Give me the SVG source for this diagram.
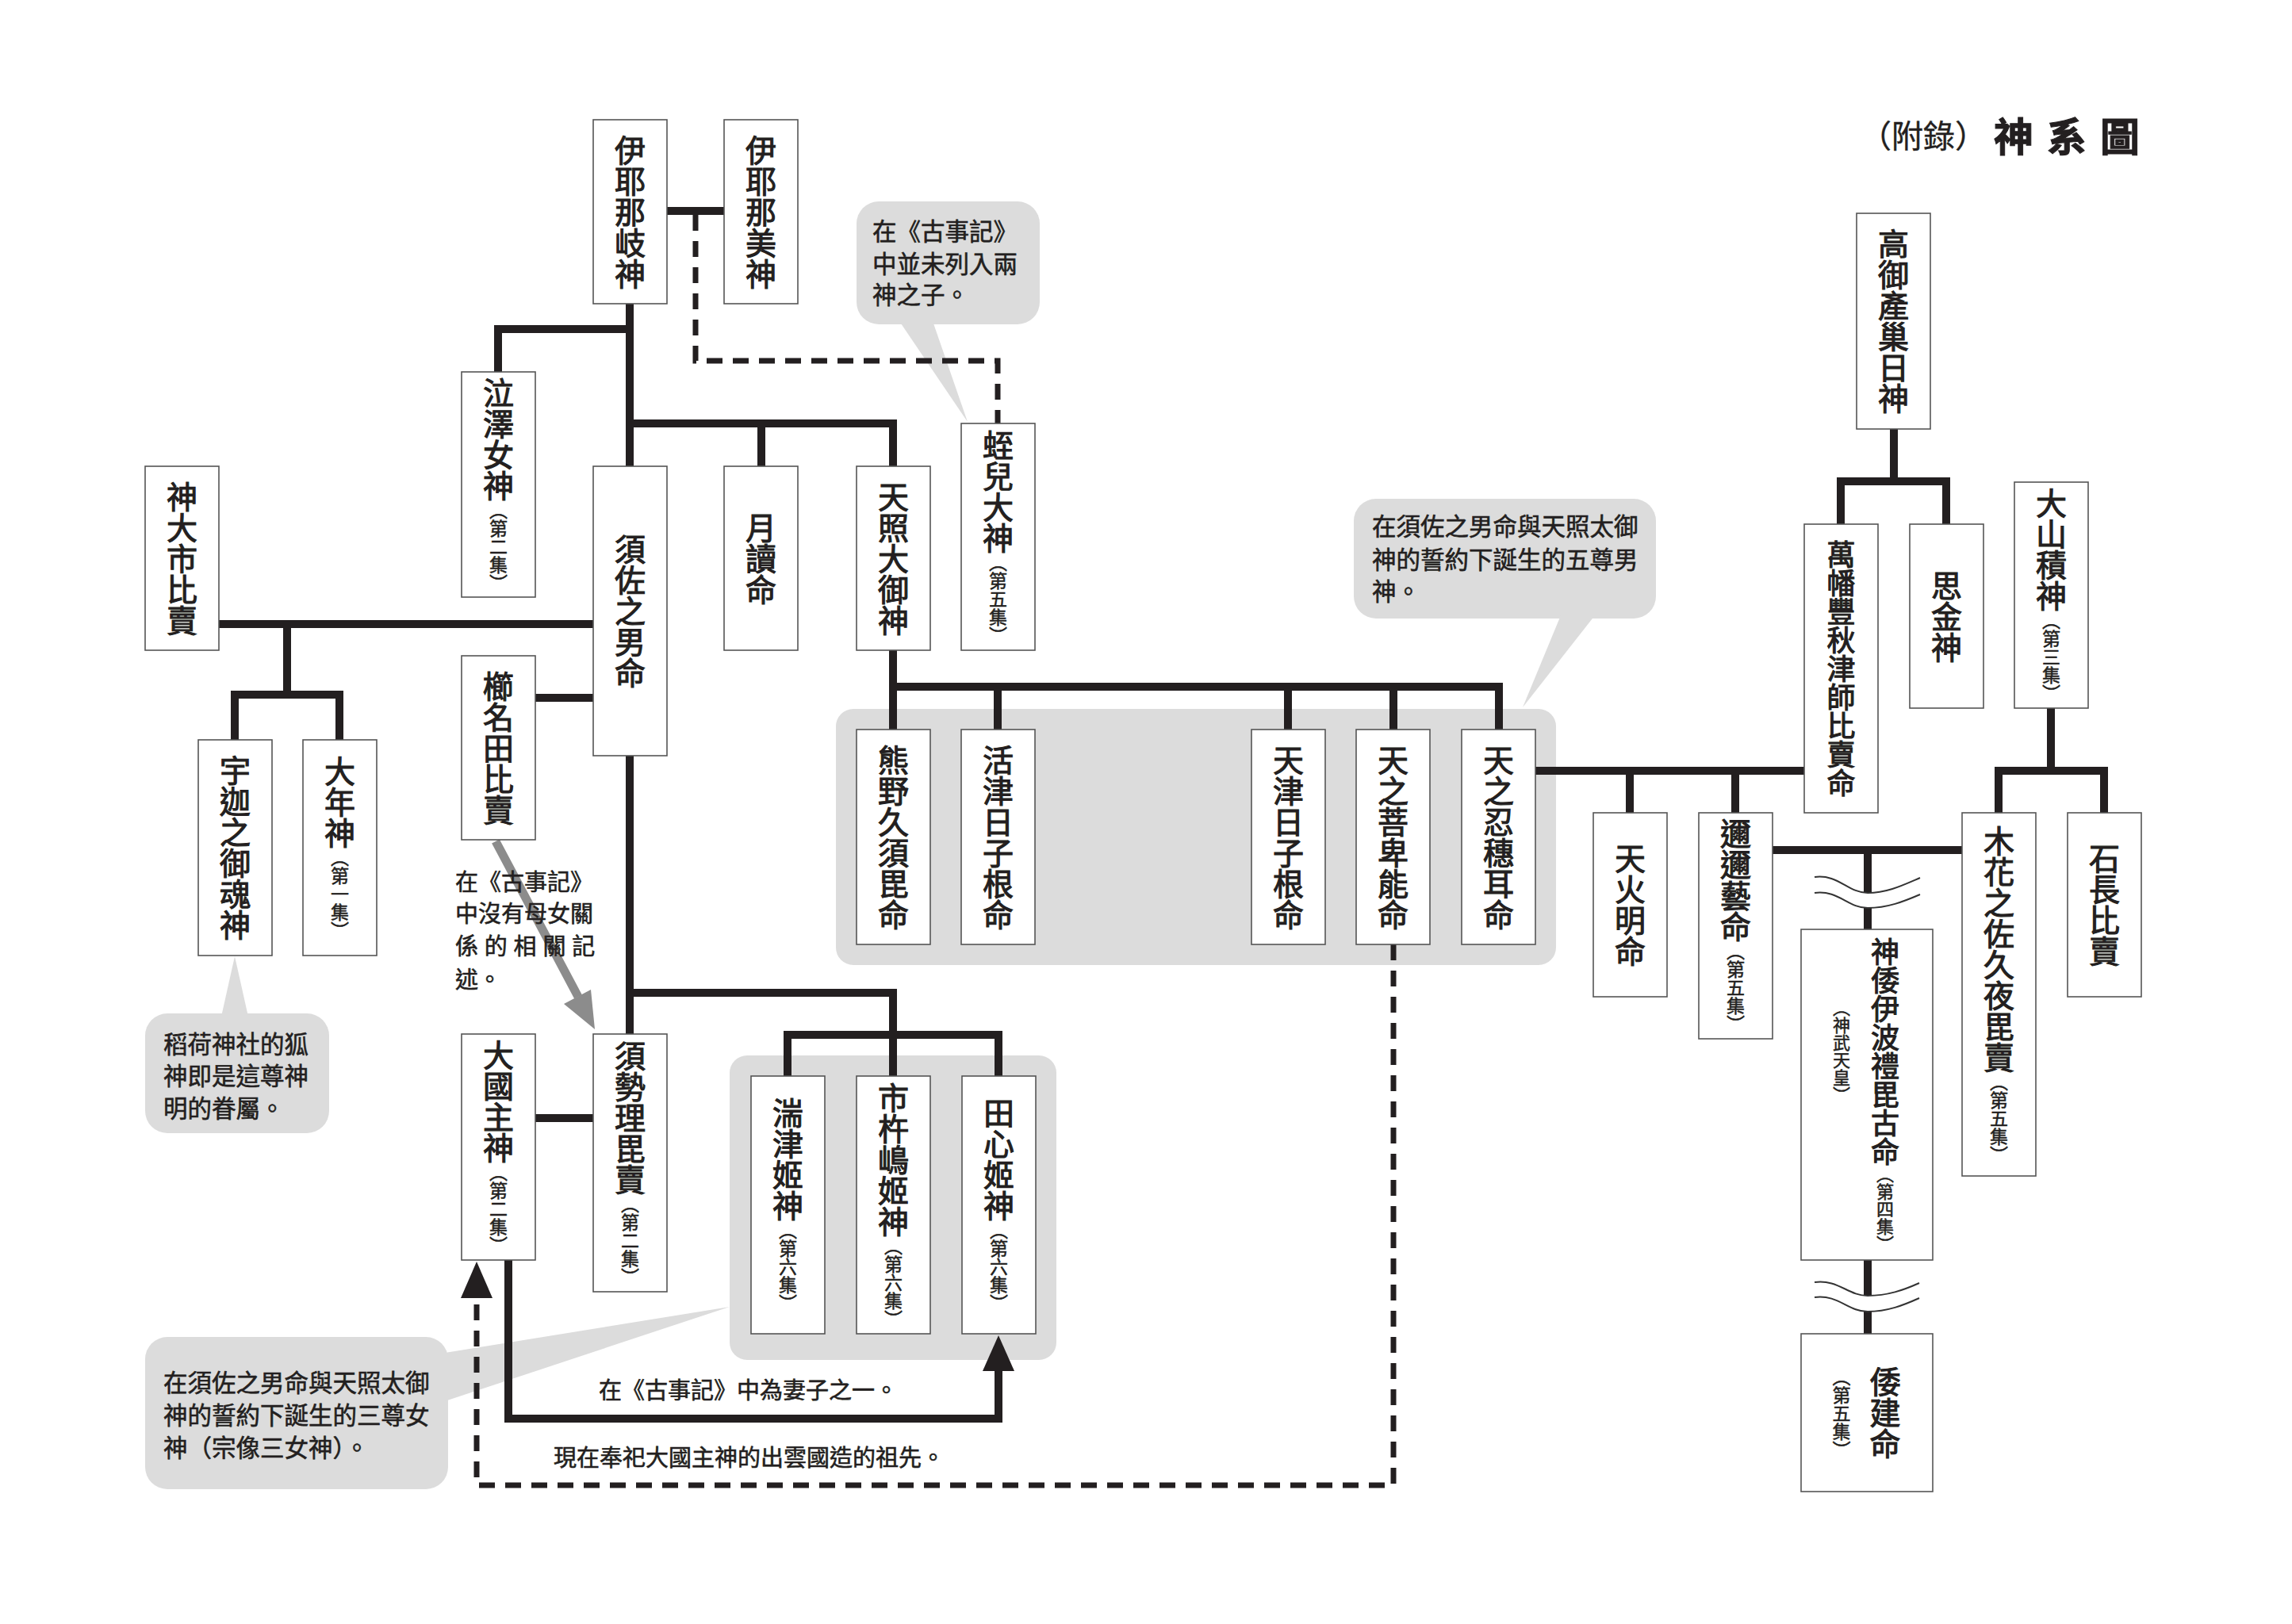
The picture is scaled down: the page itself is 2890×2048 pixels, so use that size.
<svg xmlns="http://www.w3.org/2000/svg" width="2890" height="2048" viewBox="0 0 2890 2048">
<style>
.box{fill:#fff;stroke:#555;stroke-width:1.6}
.ln{fill:none;stroke:#231f20;stroke-width:10}
.dash{fill:none;stroke:#231f20;stroke-width:7;stroke-dasharray:20 13}
.bg{fill:#dcdcdc}
.v{font-family:"Noto Sans CJK TC","Noto Sans CJK JP",sans-serif;font-size:39px;writing-mode:vertical-rl;text-anchor:middle;fill:#231f20;stroke:#231f20;stroke-width:1.1px}
.s{font-size:23px;stroke-width:0.5px}
.t{font-family:"Noto Sans CJK TC","Noto Sans CJK JP",sans-serif;font-size:30.5px;fill:#231f20;stroke:#231f20;stroke-width:0.6px;dominant-baseline:central}
.t29{font-size:29px}
.wave{fill:none;stroke:#333;stroke-width:2}
</style>
<rect width="2890" height="2048" fill="#fff"/>

<g id="title">
<text class="t" x="2505" y="169" text-anchor="end" style="font-size:40px;stroke-width:0.4px">（附錄）</text>
<text class="t" x="2514" y="169" style="font-size:50px;font-weight:bold;letter-spacing:17px;stroke-width:1px">神系圖</text>
</g>

<g id="groups-bg">
<rect class="bg" x="1054" y="894" width="908" height="323" rx="22"/>
<rect class="bg" x="920" y="1331" width="412" height="384" rx="22"/>
</g>

<g id="bubbles">
<g id="bubble-hiruko">
<rect class="bg" x="1080" y="254" width="231" height="155" rx="28"/>
<polygon class="bg" points="1134,405 1176,405 1220,532"/>
</g>
<g id="bubble-five">
<rect class="bg" x="1707" y="629" width="381" height="151" rx="28"/>
<polygon class="bg" points="1968,776 2011,776 1920,892"/>
</g>
<g id="bubble-three">
<rect class="bg" x="183" y="1686" width="382" height="192" rx="28"/>
<polygon class="bg" points="561,1706 561,1767 920,1648"/>
</g>
<g id="bubble-inari">
<rect class="bg" x="183" y="1278" width="232" height="151" rx="28"/>
<polygon class="bg" points="279,1282 313,1282 296,1206"/>
</g>
</g>

<g id="connectors">
<path class="ln" d="M841 266H913"/>
<path class="ln" d="M794 383V588"/>
<path class="ln" d="M794 415H628V469"/>
<path class="ln" d="M794 534H1126V588M960 534V588"/>
<path class="ln" d="M276 787H748"/>
<path class="ln" d="M362 787V876M296 933V876H428V933"/>
<path class="ln" d="M675 880H748"/>
<path class="ln" d="M794 953V1304"/>
<path class="ln" d="M794 1252H1126V1357M993 1357V1305H1259V1357"/>
<path class="ln" d="M675 1410H748"/>
<path class="ln" d="M1126 820V920M1126 866H1890V920M1258 866V920M1624 866V920M1757 866V920"/>
<path class="ln" d="M1936 972H2275M2055 972V1025M2188 972V1025"/>
<path class="ln" d="M2388 541V607M2321 661V607H2454V661"/>
<path class="ln" d="M2586 893V972M2520 1025V972H2653V1025"/>
<path class="ln" d="M2235 1072H2474M2355 1072V1172"/>
<path class="ln" d="M2355 1589V1682"/>
<path class="ln" d="M641 1589V1789H1259V1726"/>
<polygon fill="#231f20" points="1239,1729 1279,1729 1259,1684"/>
<path class="dash" d="M877 271V455H1258V534"/>
<path class="dash" d="M1757 1191V1873H601V1634"/>
<polygon fill="#231f20" points="581,1637 621,1637 601,1591"/>
<path fill="#fff" d="M2288 1106C2318 1102 2330 1126 2355 1126C2380 1126 2400 1116 2421 1107L2421 1128C2400 1137 2380 1145 2355 1145C2330 1145 2318 1122 2288 1126Z"/>
<path class="wave" d="M2288 1106C2318 1102 2330 1126 2355 1126C2380 1126 2400 1116 2421 1107"/>
<path class="wave" d="M2288 1126C2318 1122 2330 1145 2355 1145C2380 1145 2400 1137 2421 1128"/>
<path fill="#fff" d="M2288 1617C2318 1613 2330 1634 2355 1634C2380 1634 2400 1627 2420 1618L2420 1637C2400 1646 2380 1654 2355 1654C2330 1654 2318 1632 2288 1636Z"/>
<path class="wave" d="M2288 1617C2318 1613 2330 1634 2355 1634C2380 1634 2400 1627 2420 1618"/>
<path class="wave" d="M2288 1636C2318 1632 2330 1654 2355 1654C2380 1654 2400 1646 2420 1637"/>
</g>

<g id="arrow-kushinada">
<path d="M625 1061L729 1257" fill="none" stroke="#8c8c8c" stroke-width="11"/>
<polygon fill="#8c8c8c" points="711,1266 745,1248 750,1298"/>
</g>

<g id="n-izanagi"><rect class="box" x="748" y="151" width="93" height="232"/><text class="v" x="794.5" y="267">伊耶那岐神</text></g>
<g id="n-izanami"><rect class="box" x="913" y="151" width="93" height="232"/><text class="v" x="959.5" y="267">伊耶那美神</text></g>
<g id="n-nakisawame"><rect class="box" x="582" y="469" width="93" height="284"/><text class="v" x="628.5" y="611">泣澤女神<tspan class="s">（第二集）</tspan></text></g>
<g id="n-kamuoichi"><rect class="box" x="183" y="588" width="93" height="232"/><text class="v" x="229.5" y="704">神大市比賣</text></g>
<g id="n-susanoo"><rect class="box" x="748" y="588" width="93" height="365"/><text class="v" x="794.5" y="770.5">須佐之男命</text></g>
<g id="n-tsukuyomi"><rect class="box" x="913" y="588" width="93" height="232"/><text class="v" x="959.5" y="704">月讀命</text></g>
<g id="n-amaterasu"><rect class="box" x="1080" y="588" width="93" height="232"/><text class="v" x="1126.5" y="704">天照大御神</text></g>
<g id="n-hiruko"><rect class="box" x="1212" y="534" width="93" height="286"/><text class="v" x="1258.5" y="677">蛭兒大神<tspan class="s">（第五集）</tspan></text></g>
<g id="n-ukanomitama"><rect class="box" x="250" y="933" width="93" height="272"/><text class="v" x="296.5" y="1069">宇迦之御魂神</text></g>
<g id="n-otoshi"><rect class="box" x="382" y="933" width="93" height="272"/><text class="v" x="428.5" y="1069">大年神<tspan class="s">（第一集）</tspan></text></g>
<g id="n-kushinada"><rect class="box" x="582" y="827" width="93" height="232"/><text class="v" x="628.5" y="943">櫛名田比賣</text></g>
<g id="n-okuninushi"><rect class="box" x="582" y="1304" width="93" height="285"/><text class="v" x="628.5" y="1446.5">大國主神<tspan class="s">（第二集）</tspan></text></g>
<g id="n-suseri"><rect class="box" x="748" y="1304" width="93" height="325"/><text class="v" x="794.5" y="1466.5">須勢理毘賣<tspan class="s">（第二集）</tspan></text></g>
<g id="n-tagitsu"><rect class="box" x="947" y="1357" width="93" height="325"/><text class="v" x="993.5" y="1519.5">湍津姬神<tspan class="s">（第六集）</tspan></text></g>
<g id="n-ichikishima"><rect class="box" x="1080" y="1357" width="93" height="325"/><text class="v" x="1126.5" y="1519.5">市杵嶋姬神<tspan class="s">（第六集）</tspan></text></g>
<g id="n-tagori"><rect class="box" x="1213" y="1357" width="93" height="325"/><text class="v" x="1259.5" y="1519.5">田心姬神<tspan class="s">（第六集）</tspan></text></g>
<g id="n-kumano"><rect class="box" x="1080" y="920" width="93" height="271"/><text class="v" x="1126.5" y="1055.5">熊野久須毘命</text></g>
<g id="n-ikutsu"><rect class="box" x="1212" y="920" width="93" height="271"/><text class="v" x="1258.5" y="1055.5">活津日子根命</text></g>
<g id="n-amatsu"><rect class="box" x="1578" y="920" width="93" height="271"/><text class="v" x="1624.5" y="1055.5">天津日子根命</text></g>
<g id="n-amenohohi"><rect class="box" x="1710" y="920" width="93" height="271"/><text class="v" x="1756.5" y="1055.5">天之菩卑能命</text></g>
<g id="n-oshihomimi"><rect class="box" x="1843" y="920" width="93" height="271"/><text class="v" x="1889.5" y="1055.5">天之忍穗耳命</text></g>
<g id="n-honoakari"><rect class="box" x="2009" y="1025" width="93" height="232"/><text class="v" x="2055.5" y="1141">天火明命</text></g>
<g id="n-ninigi"><rect class="box" x="2142" y="1025" width="93" height="285"/><text class="v" x="2188.5" y="1167.5">邇邇藝命<tspan class="s">（第五集）</tspan></text></g>
<g id="n-takamimusubi"><rect class="box" x="2341" y="269" width="93" height="272"/><text class="v" x="2387.5" y="405">高御產巢日神</text></g>
<g id="n-yorozuhata"><rect class="box" x="2275" y="661" width="93" height="364"/><text class="v" x="2321.5" y="843" style="font-size:36px">萬幡豐秋津師比賣命</text></g>
<g id="n-omoikane"><rect class="box" x="2408" y="661" width="93" height="232"/><text class="v" x="2454.5" y="777">思金神</text></g>
<g id="n-oyamatsumi"><rect class="box" x="2540" y="608" width="93" height="285"/><text class="v" x="2586.5" y="750.5">大山積神<tspan class="s">（第三集）</tspan></text></g>
<g id="n-konohana"><rect class="box" x="2474" y="1025" width="93" height="458"/><text class="v" x="2520.5" y="1254">木花之佐久夜毘賣<tspan class="s">（第五集）</tspan></text></g>
<g id="n-iwanaga"><rect class="box" x="2607" y="1025" width="93" height="232"/><text class="v" x="2653.5" y="1141">石長比賣</text></g>
<g id="n-jimmu"><rect class="box" x="2271" y="1172" width="166" height="417"/><text class="v" x="2377" y="1381" style="font-size:36px">神倭伊波禮毘古命<tspan style="font-size:22px;stroke-width:0.5px">（第四集）</tspan></text><text class="v" x="2322" y="1326" style="font-size:22px;stroke-width:0.5px">（神武天皇）</text></g>
<g id="n-yamatotakeru"><rect class="box" x="2271" y="1682" width="166" height="199"/><text class="v" x="2377" y="1781">倭建命</text><text class="v" x="2322" y="1782" style="font-size:23px;stroke-width:0.5px">（第五集）</text></g>

<g id="notes">
<text class="t"><tspan x="1100" y="290">在《古事記》</tspan><tspan x="1100" y="331">中並未列入兩</tspan><tspan x="1100" y="370">神之子。</tspan></text>
<text class="t"><tspan x="1730" y="662">在須佐之男命與天照太御</tspan><tspan x="1730" y="704">神的誓約下誕生的五尊男</tspan><tspan x="1730" y="744">神。</tspan></text>
<text class="t"><tspan x="206" y="1742">在須佐之男命與天照太御</tspan><tspan x="206" y="1783">神的誓約下誕生的三尊女</tspan><tspan x="206" y="1824">神（宗像三女神）。</tspan></text>
<text class="t"><tspan x="206" y="1315">稻荷神社的狐</tspan><tspan x="206" y="1355">神即是這尊神</tspan><tspan x="206" y="1396">明的眷屬。</tspan></text>
<text class="t t29"><tspan x="574" y="1110">在《古事記》</tspan><tspan x="574" y="1150">中沒有母女關</tspan><tspan x="574" y="1191" style="letter-spacing:7.8px">係的相關記</tspan><tspan x="574" y="1233">述。</tspan></text>
<text class="t t29" x="755" y="1751">在《古事記》中為妻子之一。</text>
<text class="t t29" x="698" y="1836">現在奉祀大國主神的出雲國造的祖先。</text>
</g>
</svg>
